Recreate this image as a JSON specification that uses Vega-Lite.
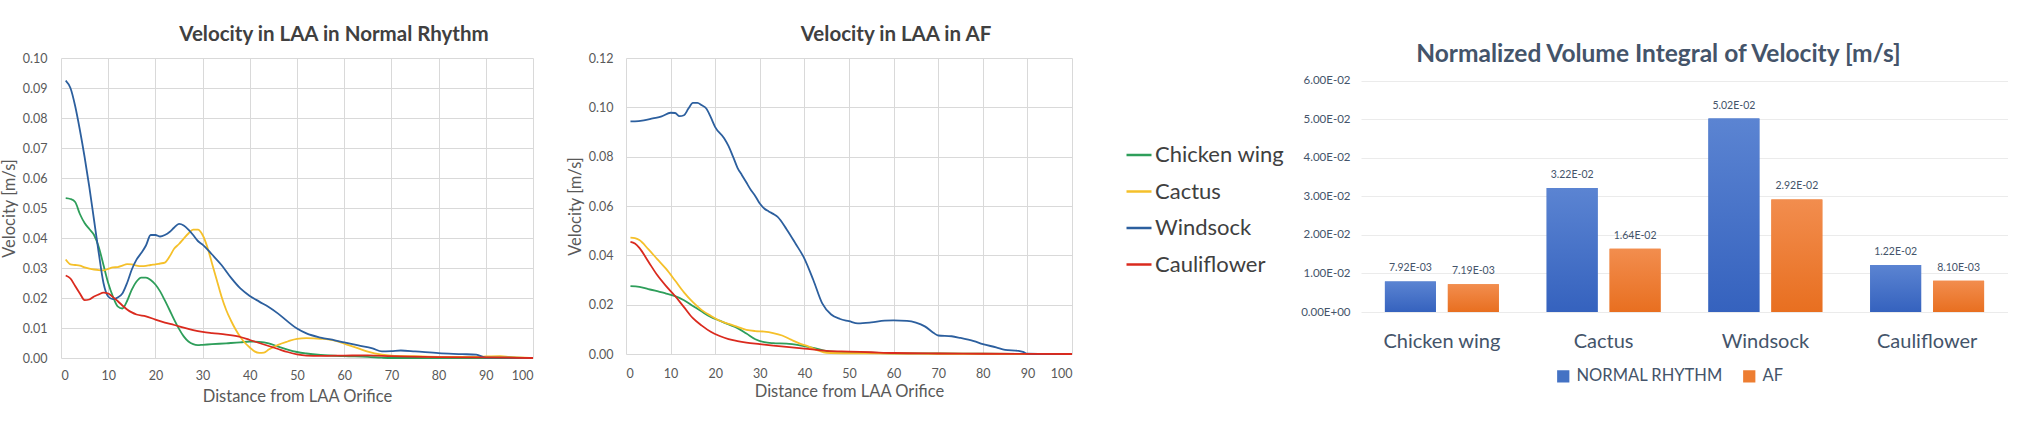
{
  "$schema": "https://vega.github.io/schema/vega-lite/v6.json",
  "padding": {"left": 1, "top": 24, "right": 0, "bottom": 0},
  "background": "white",
  "config": {
    "font": "Lato",
    "view": {"stroke": null},
    "axis": {
      "labelFont": "Lato", "labelFontSize": 12.5, "labelColor": "#595959",
      "titleFont": "Lato", "titleFontSize": 16.5, "titleFontWeight": "normal", "titleColor": "#595959",
      "gridColor": "#D9D9D9", "ticks": false, "domain": false
    },
    "title": {"font": "Lato", "fontWeight": "bold", "color": "#404040", "frame": "group", "anchor": "middle"},
    "legend": {"labelFont": "Lato"}
  },
  "datasets": {
    "normal": [
      {"shape": "Chicken wing", "dist": 1, "vel": 0.0533}, {"shape": "Chicken wing", "dist": 2, "vel": 0.053},
      {"shape": "Chicken wing", "dist": 3, "vel": 0.052}, {"shape": "Chicken wing", "dist": 4, "vel": 0.048},
      {"shape": "Chicken wing", "dist": 5, "vel": 0.045}, {"shape": "Chicken wing", "dist": 6, "vel": 0.043},
      {"shape": "Chicken wing", "dist": 7, "vel": 0.041}, {"shape": "Chicken wing", "dist": 8, "vel": 0.037},
      {"shape": "Chicken wing", "dist": 9, "vel": 0.031}, {"shape": "Chicken wing", "dist": 10, "vel": 0.025},
      {"shape": "Chicken wing", "dist": 11, "vel": 0.0205}, {"shape": "Chicken wing", "dist": 12, "vel": 0.0172},
      {"shape": "Chicken wing", "dist": 13, "vel": 0.0165}, {"shape": "Chicken wing", "dist": 14, "vel": 0.019},
      {"shape": "Chicken wing", "dist": 15, "vel": 0.0228}, {"shape": "Chicken wing", "dist": 16, "vel": 0.0255},
      {"shape": "Chicken wing", "dist": 17, "vel": 0.0268}, {"shape": "Chicken wing", "dist": 18, "vel": 0.0268},
      {"shape": "Chicken wing", "dist": 19, "vel": 0.026}, {"shape": "Chicken wing", "dist": 20, "vel": 0.0245},
      {"shape": "Chicken wing", "dist": 21, "vel": 0.0222}, {"shape": "Chicken wing", "dist": 22, "vel": 0.0192},
      {"shape": "Chicken wing", "dist": 23, "vel": 0.016}, {"shape": "Chicken wing", "dist": 24, "vel": 0.0127},
      {"shape": "Chicken wing", "dist": 25, "vel": 0.0097}, {"shape": "Chicken wing", "dist": 26, "vel": 0.0072},
      {"shape": "Chicken wing", "dist": 27, "vel": 0.0055}, {"shape": "Chicken wing", "dist": 28, "vel": 0.0046},
      {"shape": "Chicken wing", "dist": 29, "vel": 0.0043}, {"shape": "Chicken wing", "dist": 30, "vel": 0.0044},
      {"shape": "Chicken wing", "dist": 32, "vel": 0.0046}, {"shape": "Chicken wing", "dist": 35, "vel": 0.0049},
      {"shape": "Chicken wing", "dist": 38, "vel": 0.0052}, {"shape": "Chicken wing", "dist": 40, "vel": 0.0055},
      {"shape": "Chicken wing", "dist": 42, "vel": 0.0054}, {"shape": "Chicken wing", "dist": 44, "vel": 0.0049},
      {"shape": "Chicken wing", "dist": 46, "vel": 0.0038}, {"shape": "Chicken wing", "dist": 48, "vel": 0.0028},
      {"shape": "Chicken wing", "dist": 50, "vel": 0.002}, {"shape": "Chicken wing", "dist": 52, "vel": 0.0015},
      {"shape": "Chicken wing", "dist": 55, "vel": 0.001}, {"shape": "Chicken wing", "dist": 60, "vel": 0.0006},
      {"shape": "Chicken wing", "dist": 65, "vel": 0.0004}, {"shape": "Chicken wing", "dist": 68, "vel": 0.0001},
      {"shape": "Chicken wing", "dist": 70, "vel": 0}, {"shape": "Chicken wing", "dist": 80, "vel": 0},
      {"shape": "Chicken wing", "dist": 90, "vel": 0}, {"shape": "Chicken wing", "dist": 100, "vel": 0},

      {"shape": "Cactus", "dist": 1, "vel": 0.0328}, {"shape": "Cactus", "dist": 2, "vel": 0.0312},
      {"shape": "Cactus", "dist": 3, "vel": 0.031}, {"shape": "Cactus", "dist": 4, "vel": 0.0308},
      {"shape": "Cactus", "dist": 5, "vel": 0.0302}, {"shape": "Cactus", "dist": 6, "vel": 0.0298},
      {"shape": "Cactus", "dist": 7, "vel": 0.0295}, {"shape": "Cactus", "dist": 8, "vel": 0.0293},
      {"shape": "Cactus", "dist": 9, "vel": 0.0292}, {"shape": "Cactus", "dist": 10, "vel": 0.0297},
      {"shape": "Cactus", "dist": 11, "vel": 0.0302}, {"shape": "Cactus", "dist": 12, "vel": 0.0303},
      {"shape": "Cactus", "dist": 13, "vel": 0.0308}, {"shape": "Cactus", "dist": 14, "vel": 0.0313},
      {"shape": "Cactus", "dist": 15, "vel": 0.0312}, {"shape": "Cactus", "dist": 16, "vel": 0.0308},
      {"shape": "Cactus", "dist": 17, "vel": 0.0306}, {"shape": "Cactus", "dist": 18, "vel": 0.0307},
      {"shape": "Cactus", "dist": 19, "vel": 0.031}, {"shape": "Cactus", "dist": 20, "vel": 0.0312},
      {"shape": "Cactus", "dist": 21, "vel": 0.0315}, {"shape": "Cactus", "dist": 22, "vel": 0.0318},
      {"shape": "Cactus", "dist": 23, "vel": 0.0338}, {"shape": "Cactus", "dist": 24, "vel": 0.0365},
      {"shape": "Cactus", "dist": 25, "vel": 0.038}, {"shape": "Cactus", "dist": 26, "vel": 0.0398},
      {"shape": "Cactus", "dist": 27, "vel": 0.0415}, {"shape": "Cactus", "dist": 28, "vel": 0.0428},
      {"shape": "Cactus", "dist": 29, "vel": 0.0428}, {"shape": "Cactus", "dist": 30, "vel": 0.041},
      {"shape": "Cactus", "dist": 31, "vel": 0.037}, {"shape": "Cactus", "dist": 32, "vel": 0.0315},
      {"shape": "Cactus", "dist": 33, "vel": 0.026}, {"shape": "Cactus", "dist": 34, "vel": 0.0205},
      {"shape": "Cactus", "dist": 35, "vel": 0.016}, {"shape": "Cactus", "dist": 36, "vel": 0.0125},
      {"shape": "Cactus", "dist": 37, "vel": 0.0095}, {"shape": "Cactus", "dist": 38, "vel": 0.007},
      {"shape": "Cactus", "dist": 39, "vel": 0.005}, {"shape": "Cactus", "dist": 40, "vel": 0.0035},
      {"shape": "Cactus", "dist": 41, "vel": 0.0022}, {"shape": "Cactus", "dist": 42, "vel": 0.0017},
      {"shape": "Cactus", "dist": 43, "vel": 0.0018}, {"shape": "Cactus", "dist": 44, "vel": 0.0028},
      {"shape": "Cactus", "dist": 46, "vel": 0.0044}, {"shape": "Cactus", "dist": 48, "vel": 0.0055},
      {"shape": "Cactus", "dist": 50, "vel": 0.0064}, {"shape": "Cactus", "dist": 52, "vel": 0.0066},
      {"shape": "Cactus", "dist": 55, "vel": 0.0064}, {"shape": "Cactus", "dist": 58, "vel": 0.0058},
      {"shape": "Cactus", "dist": 60, "vel": 0.0048}, {"shape": "Cactus", "dist": 63, "vel": 0.0032},
      {"shape": "Cactus", "dist": 65, "vel": 0.0021}, {"shape": "Cactus", "dist": 68, "vel": 0.0011},
      {"shape": "Cactus", "dist": 70, "vel": 0.0008}, {"shape": "Cactus", "dist": 75, "vel": 0.0006},
      {"shape": "Cactus", "dist": 80, "vel": 0.0004}, {"shape": "Cactus", "dist": 85, "vel": 0.0004},
      {"shape": "Cactus", "dist": 90, "vel": 0.0005}, {"shape": "Cactus", "dist": 93, "vel": 0.0006},
      {"shape": "Cactus", "dist": 95, "vel": 0.0004}, {"shape": "Cactus", "dist": 100, "vel": 0},

      {"shape": "Windsock", "dist": 1, "vel": 0.0925}, {"shape": "Windsock", "dist": 2, "vel": 0.09},
      {"shape": "Windsock", "dist": 3, "vel": 0.084}, {"shape": "Windsock", "dist": 4, "vel": 0.076},
      {"shape": "Windsock", "dist": 5, "vel": 0.067}, {"shape": "Windsock", "dist": 6, "vel": 0.057},
      {"shape": "Windsock", "dist": 7, "vel": 0.046}, {"shape": "Windsock", "dist": 8, "vel": 0.035},
      {"shape": "Windsock", "dist": 9, "vel": 0.025}, {"shape": "Windsock", "dist": 10, "vel": 0.0205},
      {"shape": "Windsock", "dist": 11, "vel": 0.0196}, {"shape": "Windsock", "dist": 12, "vel": 0.0202},
      {"shape": "Windsock", "dist": 13, "vel": 0.0215}, {"shape": "Windsock", "dist": 14, "vel": 0.025},
      {"shape": "Windsock", "dist": 15, "vel": 0.0295}, {"shape": "Windsock", "dist": 16, "vel": 0.0328},
      {"shape": "Windsock", "dist": 17, "vel": 0.035}, {"shape": "Windsock", "dist": 18, "vel": 0.0375},
      {"shape": "Windsock", "dist": 19, "vel": 0.041}, {"shape": "Windsock", "dist": 20, "vel": 0.041},
      {"shape": "Windsock", "dist": 21, "vel": 0.0405}, {"shape": "Windsock", "dist": 22, "vel": 0.041},
      {"shape": "Windsock", "dist": 23, "vel": 0.042}, {"shape": "Windsock", "dist": 24, "vel": 0.0435},
      {"shape": "Windsock", "dist": 25, "vel": 0.0447}, {"shape": "Windsock", "dist": 26, "vel": 0.0442},
      {"shape": "Windsock", "dist": 27, "vel": 0.0428}, {"shape": "Windsock", "dist": 28, "vel": 0.041},
      {"shape": "Windsock", "dist": 29, "vel": 0.039}, {"shape": "Windsock", "dist": 30, "vel": 0.0378},
      {"shape": "Windsock", "dist": 32, "vel": 0.0345}, {"shape": "Windsock", "dist": 34, "vel": 0.031},
      {"shape": "Windsock", "dist": 36, "vel": 0.0268}, {"shape": "Windsock", "dist": 38, "vel": 0.0232},
      {"shape": "Windsock", "dist": 40, "vel": 0.0207}, {"shape": "Windsock", "dist": 42, "vel": 0.0188},
      {"shape": "Windsock", "dist": 44, "vel": 0.017}, {"shape": "Windsock", "dist": 46, "vel": 0.0148},
      {"shape": "Windsock", "dist": 48, "vel": 0.0122}, {"shape": "Windsock", "dist": 50, "vel": 0.0098},
      {"shape": "Windsock", "dist": 52, "vel": 0.0082}, {"shape": "Windsock", "dist": 55, "vel": 0.0068},
      {"shape": "Windsock", "dist": 58, "vel": 0.0059}, {"shape": "Windsock", "dist": 60, "vel": 0.0052},
      {"shape": "Windsock", "dist": 63, "vel": 0.0042}, {"shape": "Windsock", "dist": 66, "vel": 0.0032},
      {"shape": "Windsock", "dist": 68, "vel": 0.0022}, {"shape": "Windsock", "dist": 70, "vel": 0.0023},
      {"shape": "Windsock", "dist": 72, "vel": 0.0025}, {"shape": "Windsock", "dist": 75, "vel": 0.0022},
      {"shape": "Windsock", "dist": 80, "vel": 0.0016}, {"shape": "Windsock", "dist": 85, "vel": 0.0013},
      {"shape": "Windsock", "dist": 88, "vel": 0.0011}, {"shape": "Windsock", "dist": 90, "vel": 0.0001},
      {"shape": "Windsock", "dist": 95, "vel": 0.0001}, {"shape": "Windsock", "dist": 100, "vel": 0},

      {"shape": "Cauliflower", "dist": 1, "vel": 0.0275}, {"shape": "Cauliflower", "dist": 2, "vel": 0.0265},
      {"shape": "Cauliflower", "dist": 3, "vel": 0.024}, {"shape": "Cauliflower", "dist": 4, "vel": 0.0215},
      {"shape": "Cauliflower", "dist": 5, "vel": 0.0193}, {"shape": "Cauliflower", "dist": 6, "vel": 0.0195},
      {"shape": "Cauliflower", "dist": 7, "vel": 0.0205}, {"shape": "Cauliflower", "dist": 8, "vel": 0.0212},
      {"shape": "Cauliflower", "dist": 9, "vel": 0.0218}, {"shape": "Cauliflower", "dist": 10, "vel": 0.0215},
      {"shape": "Cauliflower", "dist": 11, "vel": 0.0203}, {"shape": "Cauliflower", "dist": 12, "vel": 0.019},
      {"shape": "Cauliflower", "dist": 13, "vel": 0.0175}, {"shape": "Cauliflower", "dist": 14, "vel": 0.0162},
      {"shape": "Cauliflower", "dist": 15, "vel": 0.0152}, {"shape": "Cauliflower", "dist": 16, "vel": 0.0145},
      {"shape": "Cauliflower", "dist": 18, "vel": 0.0139}, {"shape": "Cauliflower", "dist": 20, "vel": 0.0128},
      {"shape": "Cauliflower", "dist": 22, "vel": 0.0118}, {"shape": "Cauliflower", "dist": 24, "vel": 0.011},
      {"shape": "Cauliflower", "dist": 26, "vel": 0.0101}, {"shape": "Cauliflower", "dist": 28, "vel": 0.0093},
      {"shape": "Cauliflower", "dist": 30, "vel": 0.0087}, {"shape": "Cauliflower", "dist": 32, "vel": 0.0083},
      {"shape": "Cauliflower", "dist": 35, "vel": 0.0078}, {"shape": "Cauliflower", "dist": 38, "vel": 0.007},
      {"shape": "Cauliflower", "dist": 40, "vel": 0.006}, {"shape": "Cauliflower", "dist": 42, "vel": 0.005},
      {"shape": "Cauliflower", "dist": 44, "vel": 0.004}, {"shape": "Cauliflower", "dist": 46, "vel": 0.003},
      {"shape": "Cauliflower", "dist": 48, "vel": 0.002}, {"shape": "Cauliflower", "dist": 50, "vel": 0.0012},
      {"shape": "Cauliflower", "dist": 52, "vel": 0.0008}, {"shape": "Cauliflower", "dist": 55, "vel": 0.0007},
      {"shape": "Cauliflower", "dist": 60, "vel": 0.0008}, {"shape": "Cauliflower", "dist": 65, "vel": 0.0009},
      {"shape": "Cauliflower", "dist": 70, "vel": 0.0006}, {"shape": "Cauliflower", "dist": 80, "vel": 0.0003},
      {"shape": "Cauliflower", "dist": 90, "vel": 0.0002}, {"shape": "Cauliflower", "dist": 100, "vel": 0}
    ],
    "af": [
      {"shape": "Chicken wing", "dist": 1, "vel": 0.0275}, {"shape": "Chicken wing", "dist": 3, "vel": 0.0272},
      {"shape": "Chicken wing", "dist": 5, "vel": 0.0263}, {"shape": "Chicken wing", "dist": 7, "vel": 0.0255},
      {"shape": "Chicken wing", "dist": 9, "vel": 0.0245}, {"shape": "Chicken wing", "dist": 11, "vel": 0.0235},
      {"shape": "Chicken wing", "dist": 13, "vel": 0.0218}, {"shape": "Chicken wing", "dist": 15, "vel": 0.0195},
      {"shape": "Chicken wing", "dist": 17, "vel": 0.0172}, {"shape": "Chicken wing", "dist": 19, "vel": 0.015},
      {"shape": "Chicken wing", "dist": 21, "vel": 0.0135}, {"shape": "Chicken wing", "dist": 23, "vel": 0.012},
      {"shape": "Chicken wing", "dist": 25, "vel": 0.0105}, {"shape": "Chicken wing", "dist": 27, "vel": 0.0083},
      {"shape": "Chicken wing", "dist": 29, "vel": 0.006}, {"shape": "Chicken wing", "dist": 31, "vel": 0.0048},
      {"shape": "Chicken wing", "dist": 33, "vel": 0.0044}, {"shape": "Chicken wing", "dist": 36, "vel": 0.0042},
      {"shape": "Chicken wing", "dist": 39, "vel": 0.0035}, {"shape": "Chicken wing", "dist": 42, "vel": 0.0025},
      {"shape": "Chicken wing", "dist": 45, "vel": 0.0012}, {"shape": "Chicken wing", "dist": 50, "vel": 0.0007},
      {"shape": "Chicken wing", "dist": 60, "vel": 0.0003}, {"shape": "Chicken wing", "dist": 70, "vel": 0.0002},
      {"shape": "Chicken wing", "dist": 80, "vel": 0.0001}, {"shape": "Chicken wing", "dist": 100, "vel": 0},

      {"shape": "Cactus", "dist": 1, "vel": 0.0472}, {"shape": "Cactus", "dist": 2, "vel": 0.047},
      {"shape": "Cactus", "dist": 3, "vel": 0.0462}, {"shape": "Cactus", "dist": 5, "vel": 0.0425},
      {"shape": "Cactus", "dist": 7, "vel": 0.0385}, {"shape": "Cactus", "dist": 9, "vel": 0.0345},
      {"shape": "Cactus", "dist": 11, "vel": 0.0298}, {"shape": "Cactus", "dist": 13, "vel": 0.025},
      {"shape": "Cactus", "dist": 15, "vel": 0.021}, {"shape": "Cactus", "dist": 17, "vel": 0.0178},
      {"shape": "Cactus", "dist": 19, "vel": 0.0155}, {"shape": "Cactus", "dist": 21, "vel": 0.0135},
      {"shape": "Cactus", "dist": 23, "vel": 0.0122}, {"shape": "Cactus", "dist": 25, "vel": 0.011},
      {"shape": "Cactus", "dist": 27, "vel": 0.0098}, {"shape": "Cactus", "dist": 29, "vel": 0.0093},
      {"shape": "Cactus", "dist": 31, "vel": 0.0091}, {"shape": "Cactus", "dist": 33, "vel": 0.0085},
      {"shape": "Cactus", "dist": 35, "vel": 0.0075}, {"shape": "Cactus", "dist": 37, "vel": 0.0058},
      {"shape": "Cactus", "dist": 39, "vel": 0.0042}, {"shape": "Cactus", "dist": 41, "vel": 0.003},
      {"shape": "Cactus", "dist": 43, "vel": 0.0015}, {"shape": "Cactus", "dist": 45, "vel": 0.0005},
      {"shape": "Cactus", "dist": 50, "vel": 0.0003}, {"shape": "Cactus", "dist": 60, "vel": 0.0002},
      {"shape": "Cactus", "dist": 70, "vel": 0.0001}, {"shape": "Cactus", "dist": 100, "vel": 0},

      {"shape": "Windsock", "dist": 1, "vel": 0.0943}, {"shape": "Windsock", "dist": 2, "vel": 0.0943},
      {"shape": "Windsock", "dist": 4, "vel": 0.0947}, {"shape": "Windsock", "dist": 6, "vel": 0.0955},
      {"shape": "Windsock", "dist": 8, "vel": 0.0963}, {"shape": "Windsock", "dist": 10, "vel": 0.0978},
      {"shape": "Windsock", "dist": 11, "vel": 0.0977}, {"shape": "Windsock", "dist": 12, "vel": 0.0964},
      {"shape": "Windsock", "dist": 13, "vel": 0.0968}, {"shape": "Windsock", "dist": 14, "vel": 0.0995},
      {"shape": "Windsock", "dist": 15, "vel": 0.1018}, {"shape": "Windsock", "dist": 16, "vel": 0.1018},
      {"shape": "Windsock", "dist": 17, "vel": 0.1008}, {"shape": "Windsock", "dist": 18, "vel": 0.0995},
      {"shape": "Windsock", "dist": 19, "vel": 0.096}, {"shape": "Windsock", "dist": 20, "vel": 0.092},
      {"shape": "Windsock", "dist": 22, "vel": 0.0875}, {"shape": "Windsock", "dist": 23, "vel": 0.0843},
      {"shape": "Windsock", "dist": 24, "vel": 0.08}, {"shape": "Windsock", "dist": 25, "vel": 0.0755},
      {"shape": "Windsock", "dist": 26, "vel": 0.0725}, {"shape": "Windsock", "dist": 27, "vel": 0.0695},
      {"shape": "Windsock", "dist": 28, "vel": 0.0665}, {"shape": "Windsock", "dist": 29, "vel": 0.064},
      {"shape": "Windsock", "dist": 30, "vel": 0.061}, {"shape": "Windsock", "dist": 31, "vel": 0.059},
      {"shape": "Windsock", "dist": 32, "vel": 0.0578}, {"shape": "Windsock", "dist": 33, "vel": 0.0568},
      {"shape": "Windsock", "dist": 34, "vel": 0.0556}, {"shape": "Windsock", "dist": 36, "vel": 0.0506},
      {"shape": "Windsock", "dist": 38, "vel": 0.0448}, {"shape": "Windsock", "dist": 40, "vel": 0.0387},
      {"shape": "Windsock", "dist": 42, "vel": 0.03}, {"shape": "Windsock", "dist": 44, "vel": 0.0205},
      {"shape": "Windsock", "dist": 46, "vel": 0.016}, {"shape": "Windsock", "dist": 48, "vel": 0.0142},
      {"shape": "Windsock", "dist": 50, "vel": 0.0133}, {"shape": "Windsock", "dist": 52, "vel": 0.0124},
      {"shape": "Windsock", "dist": 55, "vel": 0.0128}, {"shape": "Windsock", "dist": 58, "vel": 0.0135},
      {"shape": "Windsock", "dist": 60, "vel": 0.0136}, {"shape": "Windsock", "dist": 63, "vel": 0.0134},
      {"shape": "Windsock", "dist": 65, "vel": 0.0127}, {"shape": "Windsock", "dist": 67, "vel": 0.0112},
      {"shape": "Windsock", "dist": 69, "vel": 0.0085}, {"shape": "Windsock", "dist": 70, "vel": 0.0075},
      {"shape": "Windsock", "dist": 73, "vel": 0.0072}, {"shape": "Windsock", "dist": 75, "vel": 0.0065},
      {"shape": "Windsock", "dist": 78, "vel": 0.0052}, {"shape": "Windsock", "dist": 80, "vel": 0.004},
      {"shape": "Windsock", "dist": 83, "vel": 0.0027}, {"shape": "Windsock", "dist": 85, "vel": 0.0017},
      {"shape": "Windsock", "dist": 88, "vel": 0.0013}, {"shape": "Windsock", "dist": 89, "vel": 0.0009},
      {"shape": "Windsock", "dist": 90, "vel": 0.0001}, {"shape": "Windsock", "dist": 95, "vel": 0},
      {"shape": "Windsock", "dist": 100, "vel": 0},

      {"shape": "Cauliflower", "dist": 1, "vel": 0.0455}, {"shape": "Cauliflower", "dist": 2, "vel": 0.0448},
      {"shape": "Cauliflower", "dist": 3, "vel": 0.043}, {"shape": "Cauliflower", "dist": 5, "vel": 0.0375},
      {"shape": "Cauliflower", "dist": 7, "vel": 0.032}, {"shape": "Cauliflower", "dist": 9, "vel": 0.0275},
      {"shape": "Cauliflower", "dist": 11, "vel": 0.0235}, {"shape": "Cauliflower", "dist": 13, "vel": 0.019},
      {"shape": "Cauliflower", "dist": 15, "vel": 0.0145}, {"shape": "Cauliflower", "dist": 17, "vel": 0.0115},
      {"shape": "Cauliflower", "dist": 19, "vel": 0.009}, {"shape": "Cauliflower", "dist": 21, "vel": 0.0073},
      {"shape": "Cauliflower", "dist": 23, "vel": 0.006}, {"shape": "Cauliflower", "dist": 25, "vel": 0.0052},
      {"shape": "Cauliflower", "dist": 27, "vel": 0.0046}, {"shape": "Cauliflower", "dist": 30, "vel": 0.004},
      {"shape": "Cauliflower", "dist": 33, "vel": 0.0034}, {"shape": "Cauliflower", "dist": 36, "vel": 0.0029},
      {"shape": "Cauliflower", "dist": 40, "vel": 0.0022}, {"shape": "Cauliflower", "dist": 45, "vel": 0.0013},
      {"shape": "Cauliflower", "dist": 50, "vel": 0.001}, {"shape": "Cauliflower", "dist": 55, "vel": 0.0007},
      {"shape": "Cauliflower", "dist": 60, "vel": 0.0004}, {"shape": "Cauliflower", "dist": 70, "vel": 0.0002},
      {"shape": "Cauliflower", "dist": 80, "vel": 0.0001}, {"shape": "Cauliflower", "dist": 100, "vel": 0}
    ],
    "integral": [
      {"shape": "Chicken wing", "rhythm": "NORMAL RHYTHM", "value": 0.00792},
      {"shape": "Chicken wing", "rhythm": "AF", "value": 0.00719},
      {"shape": "Cactus", "rhythm": "NORMAL RHYTHM", "value": 0.0322},
      {"shape": "Cactus", "rhythm": "AF", "value": 0.0164},
      {"shape": "Windsock", "rhythm": "NORMAL RHYTHM", "value": 0.0502},
      {"shape": "Windsock", "rhythm": "AF", "value": 0.0292},
      {"shape": "Cauliflower", "rhythm": "NORMAL RHYTHM", "value": 0.0122},
      {"shape": "Cauliflower", "rhythm": "AF", "value": 0.0081}
    ]
  },
  "bounds": "flush",
  "spacing": 93,
  "resolve": {"scale": {"color": "independent"}, "legend": {"color": "independent"}},
  "hconcat": [
    {
      "width": 472,
      "height": 300,
      "title": {"text": "Velocity in LAA in Normal Rhythm", "fontSize": 20.5, "dx": 37, "offset": 7},
      "data": {"name": "normal"},
      "mark": {"type": "line", "strokeWidth": 1.8, "interpolate": "monotone"},
      "encoding": {
        "x": {
          "field": "dist", "type": "quantitative",
          "scale": {"domain": [0, 100], "nice": false},
          "axis": {"title": "Distance from LAA Orifice", "values": [0, 10, 20, 30, 40, 50, 60, 70, 80, 90, 100], "labelPadding": 11, "titlePadding": 7}
        },
        "y": {
          "field": "vel", "type": "quantitative",
          "scale": {"domain": [0, 0.1], "nice": false},
          "axis": {"title": "Velocity [m/s]", "values": [0, 0.01, 0.02, 0.03, 0.04, 0.05, 0.06, 0.07, 0.08, 0.09, 0.1], "format": ".2f", "labelPadding": 14, "titlePadding": 5}
        },
        "color": {
          "field": "shape", "type": "nominal",
          "scale": {"domain": ["Chicken wing", "Cactus", "Windsock", "Cauliflower"], "range": ["#2E9E5A", "#F5C02A", "#2C5F9E", "#DA2A1E"]},
          "legend": null
        }
      }
    },
    {
      "width": 642,
      "height": 296,
      "title": {"text": "Velocity in LAA in AF", "fontSize": 20.5, "dx": -51, "offset": 7},
      "data": {"name": "af"},
      "mark": {"type": "line", "strokeWidth": 1.8, "interpolate": "monotone"},
      "encoding": {
        "x": {
          "field": "dist", "type": "quantitative",
          "scale": {"domain": [0, 100], "nice": false, "range": [0, 446]},
          "axis": {"title": "Distance from LAA Orifice", "values": [0, 10, 20, 30, 40, 50, 60, 70, 80, 90, 100], "labelPadding": 13, "titlePadding": 4}
        },
        "y": {
          "field": "vel", "type": "quantitative",
          "scale": {"domain": [0, 0.12], "nice": false},
          "axis": {"title": "Velocity [m/s]", "values": [0, 0.02, 0.04, 0.06, 0.08, 0.1, 0.12], "format": ".2f", "labelPadding": 13, "titlePadding": 5}
        },
        "color": {
          "field": "shape", "type": "nominal",
          "scale": {"domain": ["Chicken wing", "Cactus", "Windsock", "Cauliflower"], "range": ["#2E9E5A", "#F5C02A", "#2C5F9E", "#DA2A1E"]},
          "legend": {
            "title": null, "orient": "none", "legendX": 499, "legendY": 83,
            "symbolType": "stroke", "symbolSize": 625, "symbolStrokeWidth": 2.5,
            "labelFontSize": 22, "labelColor": "#404040", "labelOffset": 2, "rowPadding": 11.5
          }
        }
      }
    },
    {
      "width": 647,
      "height": 254,
      "title": {"text": "Normalized Volume Integral of Velocity [m/s]", "fontSize": 24.5, "color": "#44546A", "dx": -26, "offset": -9},
      "data": {"name": "integral"},
      "transform": [
        {"calculate": "replace(replace(format(datum.value, '.2e'), 'e-', 'E-0'), 'e+', 'E+0')", "as": "label"}
      ],
      "encoding": {
        "x": {
          "field": "shape", "type": "nominal", "sort": ["Chicken wing", "Cactus", "Windsock", "Cauliflower"],
          "scale": {"paddingInner": 0, "paddingOuter": 0},
          "axis": {"title": null, "labelAngle": 0, "labelFontSize": 20, "labelColor": "#44546A", "labelPadding": 19, "grid": false}
        },
        "xOffset": {
          "field": "rhythm", "type": "nominal", "sort": ["NORMAL RHYTHM", "AF"],
          "scale": {"paddingInner": 0.19, "paddingOuter": 0.38}
        },
        "y": {
          "field": "value", "type": "quantitative",
          "scale": {"domain": [0, 0.0659], "nice": false},
          "axis": {
            "title": null, "values": [0, 0.01, 0.02, 0.03, 0.04, 0.05, 0.06],
            "labelExpr": "replace(replace(format(datum.value, '.2e'), 'e-', 'E-0'), 'e+', 'E+0')",
            "labelFontSize": 11.5, "labelColor": "#44546A", "labelPadding": 11, "gridColor": "#EBEBEB"
          }
        }
      },
      "layer": [
        {
          "mark": {"type": "bar"},
          "encoding": {
            "color": {
              "field": "rhythm", "type": "nominal",
              "scale": {"domain": ["NORMAL RHYTHM", "AF"], "range": ["#4472C4", "#ED7D31"]},
              "legend": {
                "title": null, "orient": "none", "direction": "horizontal", "legendX": 194, "legendY": 310,
                "symbolType": "square", "symbolSize": 150, "labelFontSize": 16.5, "labelColor": "#44546A",
                "labelOffset": 5, "columnPadding": 18
              }
            }
          }
        },
        {
          "mark": {"type": "bar"},
          "encoding": {
            "fill": {
              "condition": {
                "test": "datum.rhythm === 'AF'",
                "value": {"gradient": "linear", "x1": 0, "y1": 0, "x2": 0, "y2": 1, "stops": [{"offset": 0, "color": "#F28D4E"}, {"offset": 1, "color": "#E86F20"}]}
              },
              "value": {"gradient": "linear", "x1": 0, "y1": 0, "x2": 0, "y2": 1, "stops": [{"offset": 0, "color": "#5B84D2"}, {"offset": 1, "color": "#3562BE"}]}
            }
          }
        },
        {
          "mark": {"type": "text", "baseline": "bottom", "dy": -8, "fontSize": 10.5, "color": "#44546A"},
          "encoding": {"text": {"field": "label"}}
        }
      ]
    }
  ]
}
